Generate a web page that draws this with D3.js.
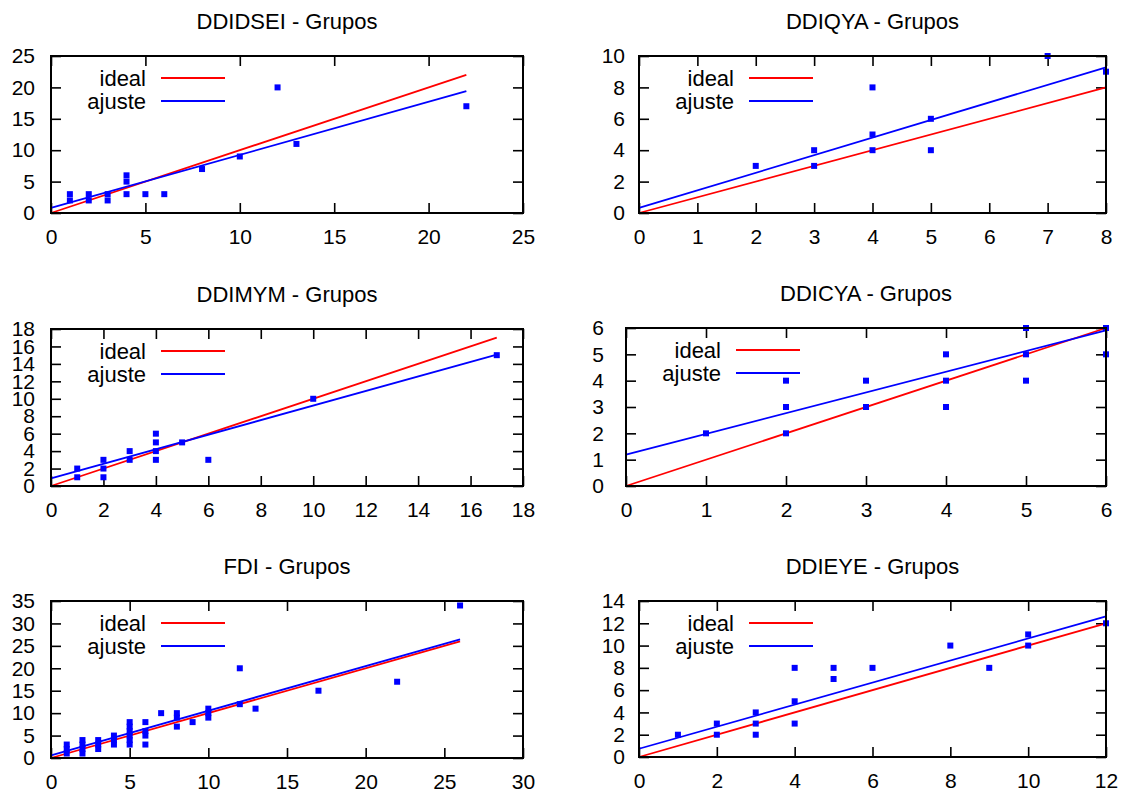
<!DOCTYPE html>
<html>
<head>
<meta charset="utf-8">
<script src="https://cdn.jsdelivr.net/npm/d3@7/dist/d3.min.js"></script>
<style>
  html, body { margin: 0; padding: 0; background: #fff; }
  svg { display: block; }
  text { font-family: "Liberation Sans", Arial, Helvetica, sans-serif; fill: #000; }
</style>
</head>
<body>
<svg id="chart" width="1132" height="797"></svg>
<script>
// ---------------- DATA ----------------
const titles = ["DDIDSEI - Grupos", "DDIQYA - Grupos", "DDIMYM - Grupos",
                "DDICYA - Grupos", "FDI - Grupos", "DDIEYE - Grupos"];
const legendLabels = ["ideal", "ajuste"];

// DDIDSEI
const ddidseiX = [1, 1, 2, 2, 3, 3, 4, 4, 4, 5, 6, 8, 10, 12, 13, 22];
const ddidseiY = [2, 3, 2, 3, 2, 3, 3, 5, 6, 3, 3, 7, 9, 20, 11, 17];
// DDIQYA
const ddiqyaX = [2, 3, 3, 4, 4, 4, 5, 5, 7, 8];
const ddiqyaY = [3, 3, 4, 4, 5, 8, 4, 6, 10, 9];
// DDIMYM
const ddimymX = [1, 1, 2, 2, 2, 3, 3, 4, 4, 4, 4, 5, 6, 10, 17];
const ddimymY = [1, 2, 1, 2, 3, 3, 4, 3, 4, 5, 6, 5, 3, 10, 15];
// DDICYA
const ddicyaX = [1, 2, 2, 2, 3, 3, 4, 4, 4, 5, 5, 5, 6, 6];
const ddicyaY = [2, 2, 3, 4, 3, 4, 3, 4, 5, 4, 5, 6, 5, 6];
// FDI
const fdiX = [1, 1, 1, 2, 2, 2, 2, 3, 3, 3, 4, 4, 4, 5, 5, 5, 5, 5, 5,
              6, 6, 6, 6, 7, 8, 8, 8, 9, 10, 10, 10, 12, 12, 13, 17, 22, 26];
const fdiY = [1, 2, 3, 1, 2, 3, 4, 2, 3, 4, 3, 4, 5, 3, 4, 5, 6, 7, 8,
              3, 5, 6, 8, 10, 7, 9, 10, 8, 9, 10, 11, 12, 20, 11, 15, 17, 34];
// DDIEYE
const ddieyeX = [1, 2, 2, 3, 3, 3, 4, 4, 4, 5, 5, 6, 8, 9, 10, 10, 12];
const ddieyeY = [2, 2, 3, 2, 3, 4, 3, 5, 8, 7, 8, 8, 10, 8, 10, 11, 12];

const seriesX = [ddidseiX, ddiqyaX, ddimymX, ddicyaX, fdiX, ddieyeX];
const seriesY = [ddidseiY, ddiqyaY, ddimymY, ddicyaY, fdiY, ddieyeY];

// fitted line ("ajuste"): [intercept, slope]
const fitIntercepts = [0.8, 0.32, 0.88, 1.19, 0.6, 0.74];
const fitSlopes     = [0.845, 1.12, 0.834, 0.787, 0.994, 0.99];

// axis domains and ticks
const xMaxes = [25, 8, 18, 6, 30, 12];
const yMaxes = [25, 10, 18, 6, 35, 14];
const xTickLabels = [
  [0, 5, 10, 15, 20, 25],
  [0, 1, 2, 3, 4, 5, 6, 7, 8],
  [0, 2, 4, 6, 8, 10, 12, 14, 16, 18],
  [0, 1, 2, 3, 4, 5, 6],
  [0, 5, 10, 15, 20, 25, 30],
  [0, 2, 4, 6, 8, 10, 12]
];
const yTickLabels = [
  [0, 5, 10, 15, 20, 25],
  [0, 2, 4, 6, 8, 10],
  [0, 2, 4, 6, 8, 10, 12, 14, 16, 18],
  [0, 1, 2, 3, 4, 5, 6],
  [0, 5, 10, 15, 20, 25, 30, 35],
  [0, 2, 4, 6, 8, 10, 12, 14]
];

// ---------------- LAYOUT ----------------
const frames = [
  { left: 51,  right: 523,  top: 56,  bottom: 213, yPad: 16 },
  { left: 639, right: 1106, top: 56,  bottom: 213, yPad: 14 },
  { left: 51,  right: 523,  top: 329, bottom: 486, yPad: 16 },
  { left: 626, right: 1106, top: 328, bottom: 486, yPad: 22 },
  { left: 51,  right: 523,  top: 601, bottom: 758, yPad: 16 },
  { left: 639, right: 1106, top: 601, bottom: 757, yPad: 14 }
];
const RED = "#ff0000", BLUE = "#0000ff";
const tickLen = 10, sq = 6;

const svg = d3.select("#chart");

frames.forEach((f, i) => {
  const w = f.right - f.left, h = f.bottom - f.top;
  const g = svg.append("g").attr("transform", `translate(${f.left},${f.top})`);
  const x = d3.scaleLinear().domain([0, xMaxes[i]]).range([0, w]);
  const y = d3.scaleLinear().domain([0, yMaxes[i]]).range([h, 0]);

  // axes with inward ticks (mirrored on top/right)
  const styleAxis = sel => {
    sel.select(".domain").remove();
    sel.selectAll(".tick line").attr("stroke", "#000").attr("stroke-width", 1.6);
    sel.selectAll(".tick text").attr("font-size", 21).style("font-family", '"Liberation Sans", Arial, sans-serif').attr("fill", "#000");
  };
  g.append("g").attr("transform", `translate(0,${h})`)
    .call(d3.axisBottom(x).tickValues(xTickLabels[i]).tickSize(-tickLen).tickPadding(16).tickFormat(d3.format("d")))
    .call(styleAxis);
  g.append("g")
    .call(d3.axisTop(x).tickValues(xTickLabels[i]).tickSize(-tickLen).tickFormat(""))
    .call(styleAxis);
  g.append("g")
    .call(d3.axisLeft(y).tickValues(yTickLabels[i]).tickSize(-tickLen).tickPadding(f.yPad).tickFormat(d3.format("d")))
    .call(styleAxis);
  g.append("g").attr("transform", `translate(${w},0)`)
    .call(d3.axisRight(y).tickValues(yTickLabels[i]).tickSize(-tickLen).tickFormat(""))
    .call(styleAxis);

  // title
  svg.append("text")
    .attr("x", f.left + w / 2).attr("y", f.top - 27)
    .attr("text-anchor", "middle").attr("font-size", 22)
    .text(titles[i]);

  // lines
  const xs = seriesX[i], ys = seriesY[i];
  const dataMax = d3.max(xs);
  const line = d3.line().x(d => x(d[0])).y(d => y(d[1]));
  g.append("path").datum([[0, 0], [dataMax, dataMax]])
    .attr("d", line).attr("fill", "none").attr("stroke", RED).attr("stroke-width", 1.8);
  g.append("path").datum([[0, fitIntercepts[i]], [dataMax, fitIntercepts[i] + fitSlopes[i] * dataMax]])
    .attr("d", line).attr("fill", "none").attr("stroke", BLUE).attr("stroke-width", 1.8);

  // points
  g.selectAll("rect.pt").data(xs.map((v, k) => [v, ys[k]])).enter()
    .append("rect").attr("class", "pt")
    .attr("x", d => x(d[0]) - sq / 2).attr("y", d => y(d[1]) - sq / 2)
    .attr("width", sq).attr("height", sq).attr("fill", BLUE);

  // frame
  g.append("rect").attr("x", 0).attr("y", 0).attr("width", w).attr("height", h)
    .attr("fill", "none").attr("stroke", "#000").attr("stroke-width", 2);

  // legend
  const legY = [22, 45], legColors = [RED, BLUE];
  legendLabels.forEach((lab, k) => {
    g.append("text").attr("x", 95).attr("y", legY[k]).attr("dy", "0.35em")
      .attr("text-anchor", "end").attr("font-size", 22).text(lab);
    g.append("line").attr("x1", 110).attr("x2", 174).attr("y1", legY[k]).attr("y2", legY[k])
      .attr("stroke", legColors[k]).attr("stroke-width", 1.8);
  });
});
</script>
</body>
</html>
